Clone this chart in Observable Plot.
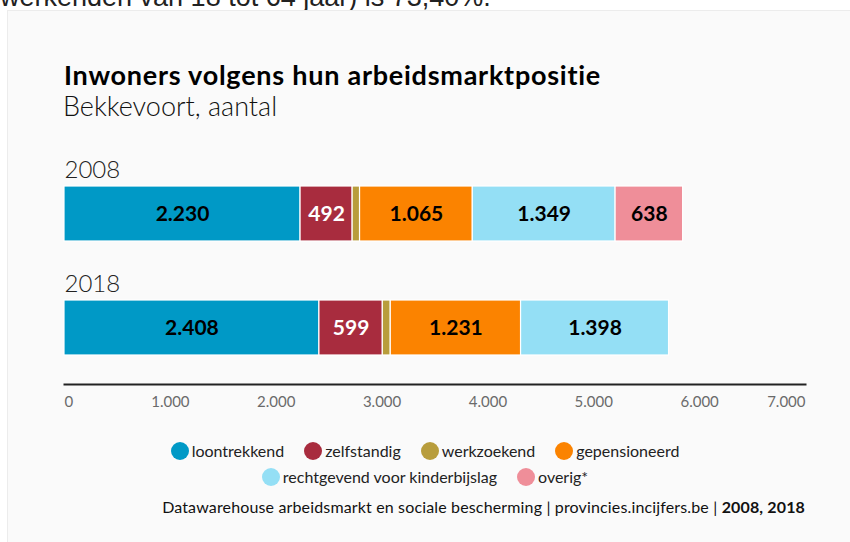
<!DOCTYPE html>
<html>
<head>
<meta charset="utf-8">
<script src="https://cdn.jsdelivr.net/npm/d3@7"></script>
<script src="https://cdn.jsdelivr.net/npm/@observablehq/plot@0.6"></script>
<style>
  html, body { margin: 0; padding: 0; background: #fff; width: 850px; height: 542px; overflow: hidden; position: relative; }
  #toptext { position: absolute; left: 0; top: -18px; font: 27px "Liberation Sans", Arial, sans-serif; color: #222; white-space: nowrap; }
  #panel { position: absolute; left: 7px; top: 10px; width: 860px; height: 560px; background: #fafafa; border: 1px solid #ececec; box-sizing: border-box; }
  .abs { position: absolute; white-space: nowrap; font-family: Lato, "Noto Sans", sans-serif; color: #000; }
  #title { left: 64px; top: 58px; font-size: 27px; font-weight: 700; letter-spacing: 0.75px; }
  #subtitle { left: 63px; top: 89px; font-size: 27px; font-weight: 300; color: #111; }
  #chart { position: absolute; left: 0; top: 140px; }
  .legendrow { position: absolute; left: 0; width: 850px; display: flex; justify-content: center; font-family: Lato, sans-serif; font-size: 16px; color: #222; }
  .item { display: flex; align-items: center; margin: 0 10px; }
  .dot { width: 18px; height: 18px; border-radius: 50%; margin-right: 3px; }
  #caption { right: 45px; top: 497px; font-size: 16px; color: #111; letter-spacing: 0.15px; }
</style>
</head>
<body>
<div id="toptext">werkenden van 18 tot 64 jaar) is 73,40%.</div>
<div id="panel"></div>
<div id="title" class="abs">Inwoners volgens hun arbeidsmarktpositie</div>
<div id="subtitle" class="abs">Bekkevoort, aantal</div>
<div id="chart"></div>
<div id="legend1" class="legendrow" style="top:441px"></div>
<div id="legend2" class="legendrow" style="top:467px"></div>
<div id="caption" class="abs">Datawarehouse arbeidsmarkt en sociale bescherming | provincies.incijfers.be | <b>2008, 2018</b></div>
<script>
const years = ["2008", "2018"];
const categories = ["loontrekkend", "zelfstandig", "werkzoekend", "gepensioneerd", "rechtgevend voor kinderbijslag", "overig*"];
const values2008 = [2230, 492, 70, 1065, 1349, 638];
const values2018 = [2408, 599, 75, 1231, 1398, null];
const colors = ["#0099c6", "#a82c3e", "#b89d3c", "#fb8300", "#94dff5", "#ef8e99"];
const labelColors = ["#000", "#fff", "#000", "#000", "#000", "#000"];
const xTicks = [0, 1000, 2000, 3000, 4000, 5000, 6000, 7000];

const fmt = d3.formatLocale({decimal: ",", thousands: ".", grouping: [3], currency: ["€", ""]}).format(",");

const rows = [];
[values2008, values2018].forEach((vals, i) => {
  vals.forEach((v, j) => {
    if (v != null) rows.push({year: years[i], cat: categories[j], value: v, idx: j});
  });
});

const tickStyle = {x: d => d, frameAnchor: "bottom", dy: 22, text: d => fmt(d), fill: "#6a6a6a", fontSize: 15, fontWeight: 400};

const plot = Plot.plot({
  width: 850,
  height: 282,
  marginLeft: 64,
  marginRight: 45,
  marginTop: 0,
  marginBottom: 38,
  style: {background: "transparent", fontFamily: "Lato, sans-serif"},
  x: {domain: [0, 7000], axis: null},
  y: {domain: years, range: [46, 215], paddingInner: 0.518, paddingOuter: 0, axis: null},
  color: {domain: categories, range: colors},
  marks: [
    Plot.barX(rows, Plot.stackX({x: "value", y: "year", z: "cat", fill: "cat", stroke: "#fff", strokeWidth: 1.2})),
    Plot.textX(rows, Plot.stackX({
      x: "value", y: "year", z: "cat",
      text: d => (d.cat === "werkzoekend" ? "" : fmt(d.value)),
      fill: d => labelColors[d.idx],
      fontSize: 21, fontWeight: 700
    })),
    Plot.text(years, {x: () => 0, y: d => d, text: d => d, textAnchor: "start", dy: -44, fontSize: 24, fontWeight: 300, fill: "#222"}),
    Plot.frame({anchor: "bottom", stroke: "#222", strokeWidth: 2}),
    Plot.text(xTicks.slice(0, 1), {...tickStyle, textAnchor: "start"}),
    Plot.text(xTicks.slice(1, -1), tickStyle),
    Plot.text(xTicks.slice(-1), {...tickStyle, textAnchor: "end"})
  ]
});
document.getElementById("chart").appendChild(plot);

function addItems(el, idxs) {
  idxs.forEach(i => {
    const it = document.createElement("div");
    it.className = "item";
    it.innerHTML = `<span class="dot" style="background:${colors[i]}"></span><span>${categories[i]}</span>`;
    el.appendChild(it);
  });
}
addItems(document.getElementById("legend1"), [0, 1, 2, 3]);
addItems(document.getElementById("legend2"), [4, 5]);
</script>
</body>
</html>
